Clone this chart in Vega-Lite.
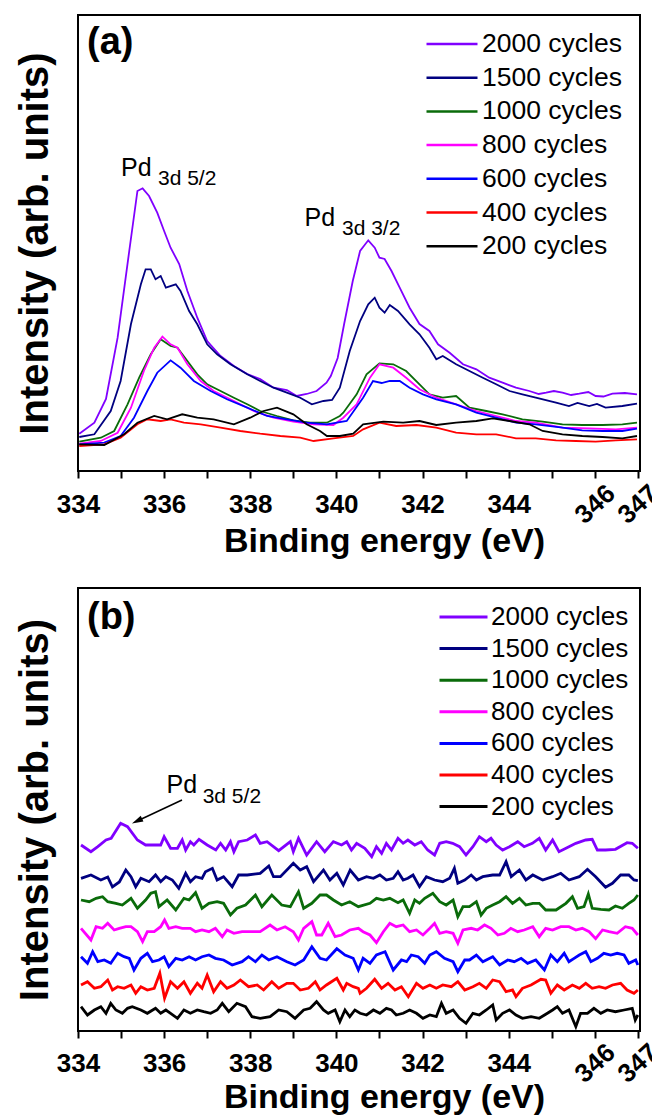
{
  "$schema": "https://vega.github.io/schema/vega-lite/v6.json",
  "padding": {"left": 14, "top": 14, "right": 0, "bottom": 0},
  "spacing": 28,
  "config": {
    "view": {"stroke": "black", "strokeWidth": 2},
    "font": "Liberation Sans",
    "text": {"font": "Liberation Sans", "color": "black"}
  },
  "resolve": {"scale": {"color": "independent"}, "legend": {"color": "independent"}},
  "vconcat": [
    {
      "width": 562,
      "height": 456,
      "layer": [
        {
          "data": {"values": [
            {"c":2000,"E":334.03,"v":37.3},{"c":2000,"E":334.38,"v":48.3},{"c":2000,"E":334.65,"v":72},{"c":2000,"E":334.92,"v":133.3},{"c":2000,"E":335.19,"v":220},{"c":2000,"E":335.38,"v":280},{"c":2000,"E":335.5,"v":282.7},{"c":2000,"E":335.65,"v":275},{"c":2000,"E":335.84,"v":258.3},{"c":2000,"E":336.0,"v":240},{"c":2000,"E":336.15,"v":223.3},{"c":2000,"E":336.35,"v":207},{"c":2000,"E":336.54,"v":180},{"c":2000,"E":336.77,"v":153.3},{"c":2000,"E":337.0,"v":130},{"c":2000,"E":337.31,"v":115},{"c":2000,"E":337.62,"v":105},{"c":2000,"E":337.93,"v":97},{"c":2000,"E":338.23,"v":92},{"c":2000,"E":338.54,"v":83.3},{"c":2000,"E":338.85,"v":81},{"c":2000,"E":339.08,"v":75},{"c":2000,"E":339.31,"v":77},{"c":2000,"E":339.54,"v":80},{"c":2000,"E":339.77,"v":88.3},{"c":2000,"E":339.87,"v":95},{"c":2000,"E":340.03,"v":113},{"c":2000,"E":340.18,"v":147},{"c":2000,"E":340.38,"v":190},{"c":2000,"E":340.55,"v":220},{"c":2000,"E":340.74,"v":230.7},{"c":2000,"E":340.89,"v":223.3},{"c":2000,"E":341.0,"v":213.3},{"c":2000,"E":341.12,"v":212},{"c":2000,"E":341.28,"v":200},{"c":2000,"E":341.47,"v":183.3},{"c":2000,"E":341.7,"v":163.3},{"c":2000,"E":341.93,"v":147},{"c":2000,"E":342.16,"v":140},{"c":2000,"E":342.36,"v":126.7},{"c":2000,"E":342.63,"v":118.3},{"c":2000,"E":342.94,"v":106.7},{"c":2000,"E":343.25,"v":101.7},{"c":2000,"E":343.55,"v":93.3},{"c":2000,"E":343.86,"v":88.3},{"c":2000,"E":344.17,"v":83.3},{"c":2000,"E":344.48,"v":80},{"c":2000,"E":344.7,"v":77},{"c":2000,"E":344.87,"v":78.3},{"c":2000,"E":345.05,"v":80},{"c":2000,"E":345.25,"v":78.3},{"c":2000,"E":345.45,"v":76},{"c":2000,"E":345.64,"v":77.3},{"c":2000,"E":345.85,"v":79},{"c":2000,"E":346.02,"v":75},{"c":2000,"E":346.2,"v":74.5},{"c":2000,"E":346.41,"v":77.3},{"c":2000,"E":346.7,"v":78},{"c":2000,"E":346.98,"v":76.7},
            {"c":1500,"E":334.03,"v":34},{"c":1500,"E":334.38,"v":36.7},{"c":1500,"E":334.76,"v":60},{"c":1500,"E":334.99,"v":90},{"c":1500,"E":335.23,"v":147},{"c":1500,"E":335.46,"v":186.7},{"c":1500,"E":335.57,"v":201.7},{"c":1500,"E":335.69,"v":201.7},{"c":1500,"E":335.8,"v":191.7},{"c":1500,"E":335.92,"v":195},{"c":1500,"E":336.04,"v":183.3},{"c":1500,"E":336.27,"v":186.7},{"c":1500,"E":336.38,"v":180},{"c":1500,"E":336.58,"v":160},{"c":1500,"E":336.77,"v":146.7},{"c":1500,"E":337.0,"v":126.7},{"c":1500,"E":337.23,"v":116.7},{"c":1500,"E":337.54,"v":106.7},{"c":1500,"E":337.93,"v":96.7},{"c":1500,"E":338.23,"v":90},{"c":1500,"E":338.54,"v":83.3},{"c":1500,"E":338.85,"v":78.3},{"c":1500,"E":339.16,"v":73.3},{"c":1500,"E":339.43,"v":66.7},{"c":1500,"E":339.7,"v":70},{"c":1500,"E":339.9,"v":71},{"c":1500,"E":340.08,"v":83.3},{"c":1500,"E":340.31,"v":120},{"c":1500,"E":340.55,"v":150},{"c":1500,"E":340.74,"v":166.7},{"c":1500,"E":340.89,"v":173.3},{"c":1500,"E":341.0,"v":163.3},{"c":1500,"E":341.12,"v":158.3},{"c":1500,"E":341.24,"v":166},{"c":1500,"E":341.43,"v":160},{"c":1500,"E":341.7,"v":146.7},{"c":1500,"E":341.93,"v":136.7},{"c":1500,"E":342.16,"v":123.3},{"c":1500,"E":342.32,"v":111.7},{"c":1500,"E":342.47,"v":115},{"c":1500,"E":342.78,"v":106.7},{"c":1500,"E":343.09,"v":100},{"c":1500,"E":343.4,"v":93.3},{"c":1500,"E":343.71,"v":86.7},{"c":1500,"E":344.02,"v":80},{"c":1500,"E":344.32,"v":76.7},{"c":1500,"E":344.63,"v":73.3},{"c":1500,"E":345.1,"v":68.3},{"c":1500,"E":345.4,"v":65},{"c":1500,"E":345.6,"v":68},{"c":1500,"E":345.87,"v":65},{"c":1500,"E":346.05,"v":67},{"c":1500,"E":346.25,"v":63.3},{"c":1500,"E":346.64,"v":65},{"c":1500,"E":346.98,"v":67.3},
            {"c":1000,"E":334.03,"v":29.3},{"c":1000,"E":334.53,"v":33.3},{"c":1000,"E":334.84,"v":40},{"c":1000,"E":335.15,"v":66.7},{"c":1000,"E":335.42,"v":93.3},{"c":1000,"E":335.69,"v":116.7},{"c":1000,"E":335.92,"v":131.7},{"c":1000,"E":336.15,"v":125},{"c":1000,"E":336.31,"v":123.3},{"c":1000,"E":336.54,"v":110},{"c":1000,"E":336.77,"v":96.7},{"c":1000,"E":337.0,"v":86.7},{"c":1000,"E":337.31,"v":80},{"c":1000,"E":337.62,"v":73.3},{"c":1000,"E":337.93,"v":66.7},{"c":1000,"E":338.23,"v":60},{"c":1000,"E":338.62,"v":55},{"c":1000,"E":339.0,"v":50.7},{"c":1000,"E":339.39,"v":48.3},{"c":1000,"E":339.78,"v":48.3},{"c":1000,"E":340.08,"v":55},{"c":1000,"E":340.16,"v":58.3},{"c":1000,"E":340.47,"v":76.7},{"c":1000,"E":340.7,"v":96.7},{"c":1000,"E":341.0,"v":107.7},{"c":1000,"E":341.32,"v":106.7},{"c":1000,"E":341.62,"v":100},{"c":1000,"E":341.93,"v":86.7},{"c":1000,"E":342.16,"v":76.7},{"c":1000,"E":342.47,"v":73.3},{"c":1000,"E":342.78,"v":75},{"c":1000,"E":343.09,"v":63.3},{"c":1000,"E":343.48,"v":60},{"c":1000,"E":343.86,"v":56.7},{"c":1000,"E":344.32,"v":51.7},{"c":1000,"E":344.79,"v":49.3},{"c":1000,"E":345.25,"v":46.7},{"c":1000,"E":345.71,"v":46},{"c":1000,"E":346.18,"v":46},{"c":1000,"E":346.64,"v":46.7},{"c":1000,"E":346.98,"v":48.3},
            {"c":800,"E":334.03,"v":27.3},{"c":800,"E":334.53,"v":30},{"c":800,"E":334.92,"v":38.3},{"c":800,"E":335.23,"v":63.3},{"c":800,"E":335.53,"v":100},{"c":800,"E":335.77,"v":123.3},{"c":800,"E":335.96,"v":134.3},{"c":800,"E":336.15,"v":126.7},{"c":800,"E":336.31,"v":123.3},{"c":800,"E":336.54,"v":106.7},{"c":800,"E":336.85,"v":90},{"c":800,"E":337.15,"v":80},{"c":800,"E":337.62,"v":70},{"c":800,"E":338.08,"v":60},{"c":800,"E":338.54,"v":53.3},{"c":800,"E":339.0,"v":49.3},{"c":800,"E":339.47,"v":46.7},{"c":800,"E":339.93,"v":46},{"c":800,"E":340.16,"v":53.3},{"c":800,"E":340.47,"v":66.7},{"c":800,"E":340.78,"v":93.3},{"c":800,"E":341.0,"v":106.7},{"c":800,"E":341.32,"v":103.3},{"c":800,"E":341.62,"v":93.3},{"c":800,"E":341.93,"v":81.7},{"c":800,"E":342.32,"v":73.3},{"c":800,"E":342.78,"v":66.7},{"c":800,"E":343.25,"v":60},{"c":800,"E":343.71,"v":55},{"c":800,"E":344.17,"v":50},{"c":800,"E":344.63,"v":48.3},{"c":800,"E":345.25,"v":43.3},{"c":800,"E":345.87,"v":42.7},{"c":800,"E":346.49,"v":41.7},{"c":800,"E":346.98,"v":43.3},
            {"c":600,"E":334.03,"v":26.7},{"c":600,"E":334.61,"v":28.3},{"c":600,"E":334.99,"v":35},{"c":600,"E":335.3,"v":53.3},{"c":600,"E":335.61,"v":80},{"c":600,"E":335.84,"v":98.3},{"c":600,"E":336.15,"v":110.7},{"c":600,"E":336.38,"v":103.3},{"c":600,"E":336.69,"v":90},{"c":600,"E":337.08,"v":80},{"c":600,"E":337.46,"v":71.7},{"c":600,"E":337.93,"v":63.3},{"c":600,"E":338.39,"v":55},{"c":600,"E":338.85,"v":51.7},{"c":600,"E":339.31,"v":48.3},{"c":600,"E":339.78,"v":46.7},{"c":600,"E":340.24,"v":50},{"c":600,"E":340.62,"v":73.3},{"c":600,"E":340.85,"v":90},{"c":600,"E":341.05,"v":88},{"c":600,"E":341.24,"v":90},{"c":600,"E":341.47,"v":90},{"c":600,"E":341.7,"v":83.3},{"c":600,"E":342.01,"v":76.7},{"c":600,"E":342.32,"v":71.7},{"c":600,"E":342.78,"v":66.7},{"c":600,"E":343.25,"v":58.3},{"c":600,"E":343.71,"v":53.3},{"c":600,"E":344.17,"v":48.3},{"c":600,"E":344.63,"v":46.7},{"c":600,"E":345.25,"v":43.3},{"c":600,"E":345.71,"v":40.7},{"c":600,"E":346.18,"v":40},{"c":600,"E":346.64,"v":40},{"c":600,"E":346.98,"v":42.3},
            {"c":400,"E":334.03,"v":25},{"c":400,"E":334.61,"v":26.7},{"c":400,"E":334.99,"v":33.3},{"c":400,"E":335.38,"v":46.7},{"c":400,"E":335.61,"v":51.7},{"c":400,"E":335.92,"v":50},{"c":400,"E":336.15,"v":51.7},{"c":400,"E":336.46,"v":48.3},{"c":400,"E":336.85,"v":46.7},{"c":400,"E":337.31,"v":43.3},{"c":400,"E":337.77,"v":40},{"c":400,"E":338.23,"v":37.3},{"c":400,"E":338.7,"v":35},{"c":400,"E":339.16,"v":33.3},{"c":400,"E":339.47,"v":30},{"c":400,"E":339.93,"v":32.7},{"c":400,"E":340.39,"v":35},{"c":400,"E":340.62,"v":41.7},{"c":400,"E":341.0,"v":48.3},{"c":400,"E":341.39,"v":45},{"c":400,"E":341.86,"v":46},{"c":400,"E":342.32,"v":43.3},{"c":400,"E":342.78,"v":38.3},{"c":400,"E":343.25,"v":36.7},{"c":400,"E":343.71,"v":36.7},{"c":400,"E":344.17,"v":32.7},{"c":400,"E":344.63,"v":32.7},{"c":400,"E":345.1,"v":30.7},{"c":400,"E":345.56,"v":30},{"c":400,"E":346.02,"v":29.3},{"c":400,"E":346.49,"v":30.7},{"c":400,"E":346.98,"v":31.7},
            {"c":200,"E":334.03,"v":26.7},{"c":200,"E":334.61,"v":26},{"c":200,"E":335.07,"v":36.7},{"c":200,"E":335.38,"v":48.3},{"c":200,"E":335.77,"v":55},{"c":200,"E":336.07,"v":51.7},{"c":200,"E":336.42,"v":56.7},{"c":200,"E":336.77,"v":53.3},{"c":200,"E":337.15,"v":51.7},{"c":200,"E":337.62,"v":46.7},{"c":200,"E":338.0,"v":53.3},{"c":200,"E":338.31,"v":60},{"c":200,"E":338.62,"v":63.3},{"c":200,"E":339.0,"v":56.7},{"c":200,"E":339.31,"v":46.7},{"c":200,"E":339.62,"v":40},{"c":200,"E":339.78,"v":35},{"c":200,"E":340.08,"v":35},{"c":200,"E":340.39,"v":37.3},{"c":200,"E":340.62,"v":46.7},{"c":200,"E":341.09,"v":49.3},{"c":200,"E":341.55,"v":48.3},{"c":200,"E":341.93,"v":50},{"c":200,"E":342.32,"v":46},{"c":200,"E":342.78,"v":48.3},{"c":200,"E":343.25,"v":50},{"c":200,"E":343.63,"v":52.7},{"c":200,"E":344.02,"v":50},{"c":200,"E":344.48,"v":46.7},{"c":200,"E":344.79,"v":40},{"c":200,"E":345.25,"v":36.7},{"c":200,"E":345.71,"v":35},{"c":200,"E":346.18,"v":34},{"c":200,"E":346.64,"v":32.7},{"c":200,"E":346.98,"v":35}
          ]},
          "mark": {"type": "line", "strokeWidth": 1.8, "clip": true},
          "encoding": {
            "x": {"field": "E", "type": "quantitative", "scale": {"domain": [334, 347.05], "nice": false, "zero": false},
              "axis": {"title": "Binding energy (eV)", "values": [334,335,336,337,338,339,340,341,342,343,344,345,346,347],
                "labelExpr": "datum.value % 2 == 0 || datum.value == 347 ? datum.label : ''",
                "labelAngle": {"expr": "datum.value >= 346 ? -42 : 0"},
                "grid": false, "domain": false, "tickSize": 7, "tickWidth": 2, "tickColor": "black",
                "labelFont": "Liberation Sans", "labelFontWeight": "bold", "labelFontSize": 26, "labelColor": "black",
                "labelAlign": "center", "labelBaseline": "middle", "labelPadding": 26, "labelOverlap": false, "labelBound": false, "labelFlush": false,
                "titleFont": "Liberation Sans", "titleFontSize": 34, "titleFontWeight": "bold", "titleColor": "black",
                "titleX": 306, "titleY": 80, "titleBaseline": "alphabetic", "titleAlign": "center"}},
            "y": {"field": "v", "type": "quantitative", "scale": {"domain": [0, 456], "nice": false, "zero": false},
              "axis": {"title": "Intensity (arb. units)", "labels": false, "ticks": false, "domain": false, "grid": false,
                "titleFont": "Liberation Sans", "titleFontSize": 40, "titleFontWeight": "bold", "titleColor": "black",
                "titleX": -31, "titleBaseline": "alphabetic"}},
            "color": {"field": "c", "type": "nominal",
              "scale": {"domain": [2000,1500,1000,800,600,400,200], "range": ["#8000FF","#000080","#0A6B0A","#FF00FF","#0000FF","#FF0000","#000000"]},
              "legend": {"orient": "none", "legendX": 347, "legendY": 14, "title": null, "padding": 0,
                "symbolType": "stroke", "symbolSize": 2601, "symbolStrokeWidth": 2.5, "clipHeight": 30, "rowPadding": 3.7,
                "labelFont": "Liberation Sans", "labelFontSize": 26.5, "labelColor": "black", "labelOffset": 3,
                "labelExpr": "datum.label + ' cycles'"}}
          }
        },
        {
          "data": {"values": [{"E": 334.998, "v": 295, "t": "Pd"}, {"E": 339.261, "v": 245, "t": "Pd"}]},
          "mark": {"type": "text", "align": "left", "baseline": "alphabetic", "fontSize": 25, "font": "Liberation Sans", "color": "black"},
          "encoding": {"x": {"field": "E", "type": "quantitative"}, "y": {"field": "v", "type": "quantitative"}, "text": {"field": "t"}}
        },
        {
          "data": {"values": [{"E": 335.857, "v": 286, "t": "3d 5/2"}, {"E": 340.13, "v": 236, "t": "3d 3/2"}]},
          "mark": {"type": "text", "align": "left", "baseline": "alphabetic", "fontSize": 21, "font": "Liberation Sans", "color": "black"},
          "encoding": {"x": {"field": "E", "type": "quantitative"}, "y": {"field": "v", "type": "quantitative"}, "text": {"field": "t"}}
        },
        {
          "data": {"values": [{"E": 334.209, "v": 417, "t": "(a)"}]},
          "mark": {"type": "text", "align": "left", "baseline": "alphabetic", "fontSize": 38, "fontWeight": "bold", "font": "Liberation Sans", "color": "black"},
          "encoding": {"x": {"field": "E", "type": "quantitative"}, "y": {"field": "v", "type": "quantitative"}, "text": {"field": "t"}}
        }
      ]
    },
    {
      "width": 562,
      "height": 443,
      "layer": [
        {
          "data": {"values": [
            {"c":2000,"E":334.07,"v":186},{"c":2000,"E":334.3,"v":179.3},{"c":2000,"E":334.46,"v":184.3},{"c":2000,"E":334.65,"v":191},{"c":2000,"E":334.77,"v":192.7},{"c":2000,"E":334.99,"v":207.7},{"c":2000,"E":335.15,"v":204.3},{"c":2000,"E":335.38,"v":191},{"c":2000,"E":335.57,"v":186},{"c":2000,"E":335.92,"v":186},{"c":2000,"E":336.0,"v":194.3},{"c":2000,"E":336.15,"v":182.7},{"c":2000,"E":336.31,"v":182.7},{"c":2000,"E":336.42,"v":191},{"c":2000,"E":336.5,"v":181},{"c":2000,"E":336.61,"v":189.3},{"c":2000,"E":336.69,"v":186},{"c":2000,"E":336.81,"v":191.7},{"c":2000,"E":337.0,"v":186},{"c":2000,"E":337.2,"v":181},{"c":2000,"E":337.31,"v":187.7},{"c":2000,"E":337.43,"v":181},{"c":2000,"E":337.54,"v":189.3},{"c":2000,"E":337.62,"v":179.3},{"c":2000,"E":337.73,"v":189.3},{"c":2000,"E":337.93,"v":191},{"c":2000,"E":338.12,"v":196},{"c":2000,"E":338.23,"v":187.7},{"c":2000,"E":338.39,"v":189.3},{"c":2000,"E":338.66,"v":180.3},{"c":2000,"E":338.93,"v":189.3},{"c":2000,"E":339.0,"v":179.3},{"c":2000,"E":339.12,"v":192.7},{"c":2000,"E":339.31,"v":176},{"c":2000,"E":339.54,"v":189.3},{"c":2000,"E":339.73,"v":179.3},{"c":2000,"E":339.93,"v":189.3},{"c":2000,"E":340.12,"v":186},{"c":2000,"E":340.24,"v":189.3},{"c":2000,"E":340.35,"v":181},{"c":2000,"E":340.47,"v":187.7},{"c":2000,"E":340.66,"v":182.7},{"c":2000,"E":340.82,"v":174.3},{"c":2000,"E":340.93,"v":184.3},{"c":2000,"E":341.05,"v":177.7},{"c":2000,"E":341.16,"v":187.7},{"c":2000,"E":341.28,"v":181},{"c":2000,"E":341.43,"v":192.7},{"c":2000,"E":341.55,"v":187.7},{"c":2000,"E":341.66,"v":191},{"c":2000,"E":341.82,"v":186},{"c":2000,"E":341.97,"v":189.3},{"c":2000,"E":342.12,"v":181},{"c":2000,"E":342.28,"v":176},{"c":2000,"E":342.4,"v":187.7},{"c":2000,"E":342.55,"v":189.3},{"c":2000,"E":342.7,"v":187.7},{"c":2000,"E":342.86,"v":184.3},{"c":2000,"E":343.01,"v":176},{"c":2000,"E":343.17,"v":184.3},{"c":2000,"E":343.32,"v":194.3},{"c":2000,"E":343.48,"v":189.3},{"c":2000,"E":343.59,"v":192.7},{"c":2000,"E":343.71,"v":186},{"c":2000,"E":343.86,"v":181},{"c":2000,"E":344.02,"v":184.3},{"c":2000,"E":344.21,"v":189.3},{"c":2000,"E":344.36,"v":184.3},{"c":2000,"E":344.55,"v":187.7},{"c":2000,"E":344.71,"v":192.7},{"c":2000,"E":344.86,"v":181},{"c":2000,"E":345.02,"v":191},{"c":2000,"E":345.17,"v":179.3},{"c":2000,"E":345.4,"v":184.3},{"c":2000,"E":345.56,"v":187.7},{"c":2000,"E":345.79,"v":191},{"c":2000,"E":345.94,"v":191.7},{"c":2000,"E":346.06,"v":181},{"c":2000,"E":346.25,"v":181},{"c":2000,"E":346.48,"v":181.7},{"c":2000,"E":346.75,"v":188.3},{"c":2000,"E":346.87,"v":187.7},{"c":2000,"E":347.0,"v":182.7},
            {"c":1500,"E":334.07,"v":152.7},{"c":1500,"E":334.3,"v":156},{"c":1500,"E":334.53,"v":151},{"c":1500,"E":334.69,"v":154},{"c":1500,"E":334.8,"v":144},{"c":1500,"E":334.96,"v":149},{"c":1500,"E":335.11,"v":161},{"c":1500,"E":335.23,"v":154.3},{"c":1500,"E":335.34,"v":144.3},{"c":1500,"E":335.46,"v":152.7},{"c":1500,"E":335.65,"v":149.3},{"c":1500,"E":335.8,"v":156},{"c":1500,"E":335.92,"v":149.3},{"c":1500,"E":336.04,"v":154.3},{"c":1500,"E":336.19,"v":151},{"c":1500,"E":336.34,"v":142.7},{"c":1500,"E":336.5,"v":157.7},{"c":1500,"E":336.61,"v":149.3},{"c":1500,"E":336.73,"v":154.3},{"c":1500,"E":336.88,"v":152.7},{"c":1500,"E":336.96,"v":159.3},{"c":1500,"E":337.12,"v":162.7},{"c":1500,"E":337.23,"v":151},{"c":1500,"E":337.38,"v":154.3},{"c":1500,"E":337.58,"v":144.3},{"c":1500,"E":337.73,"v":156},{"c":1500,"E":337.93,"v":156},{"c":1500,"E":338.23,"v":157.7},{"c":1500,"E":338.43,"v":165},{"c":1500,"E":338.54,"v":154.3},{"c":1500,"E":338.7,"v":154.3},{"c":1500,"E":339.0,"v":167.7},{"c":1500,"E":339.16,"v":161},{"c":1500,"E":339.31,"v":164.3},{"c":1500,"E":339.47,"v":149.3},{"c":1500,"E":339.7,"v":161},{"c":1500,"E":339.85,"v":151},{"c":1500,"E":340.01,"v":157.7},{"c":1500,"E":340.16,"v":146},{"c":1500,"E":340.32,"v":161},{"c":1500,"E":340.51,"v":151},{"c":1500,"E":340.7,"v":154.3},{"c":1500,"E":340.86,"v":152.7},{"c":1500,"E":341.01,"v":156},{"c":1500,"E":341.16,"v":151},{"c":1500,"E":341.32,"v":152.7},{"c":1500,"E":341.43,"v":159.3},{"c":1500,"E":341.55,"v":151},{"c":1500,"E":341.66,"v":152.7},{"c":1500,"E":341.78,"v":156},{"c":1500,"E":341.93,"v":144.3},{"c":1500,"E":342.09,"v":154.3},{"c":1500,"E":342.28,"v":151},{"c":1500,"E":342.47,"v":149.3},{"c":1500,"E":342.63,"v":152.7},{"c":1500,"E":342.74,"v":162.7},{"c":1500,"E":342.82,"v":147.7},{"c":1500,"E":342.98,"v":151},{"c":1500,"E":343.13,"v":156},{"c":1500,"E":343.25,"v":151},{"c":1500,"E":343.4,"v":154.3},{"c":1500,"E":343.63,"v":156},{"c":1500,"E":343.79,"v":156},{"c":1500,"E":343.94,"v":169.3},{"c":1500,"E":344.06,"v":154.3},{"c":1500,"E":344.25,"v":161},{"c":1500,"E":344.4,"v":151},{"c":1500,"E":344.56,"v":156},{"c":1500,"E":344.79,"v":151},{"c":1500,"E":345.02,"v":154.3},{"c":1500,"E":345.21,"v":157.7},{"c":1500,"E":345.4,"v":151},{"c":1500,"E":345.64,"v":154.3},{"c":1500,"E":345.83,"v":161.7},{"c":1500,"E":346.02,"v":154.3},{"c":1500,"E":346.25,"v":143.7},{"c":1500,"E":346.41,"v":147.7},{"c":1500,"E":346.6,"v":156},{"c":1500,"E":346.79,"v":156},{"c":1500,"E":346.91,"v":151},{"c":1500,"E":347.0,"v":150.3},
            {"c":1000,"E":334.07,"v":131},{"c":1000,"E":334.26,"v":129.3},{"c":1000,"E":334.42,"v":132.7},{"c":1000,"E":334.57,"v":134.3},{"c":1000,"E":334.69,"v":129.3},{"c":1000,"E":334.88,"v":127.7},{"c":1000,"E":335.03,"v":126},{"c":1000,"E":335.23,"v":132.7},{"c":1000,"E":335.38,"v":122.7},{"c":1000,"E":335.57,"v":131},{"c":1000,"E":335.69,"v":137.7},{"c":1000,"E":335.8,"v":139.3},{"c":1000,"E":335.88,"v":124.3},{"c":1000,"E":336.07,"v":131},{"c":1000,"E":336.27,"v":121},{"c":1000,"E":336.46,"v":132.7},{"c":1000,"E":336.58,"v":131},{"c":1000,"E":336.73,"v":138.3},{"c":1000,"E":336.88,"v":122.7},{"c":1000,"E":337.04,"v":127.7},{"c":1000,"E":337.23,"v":129.3},{"c":1000,"E":337.38,"v":127.7},{"c":1000,"E":337.54,"v":116},{"c":1000,"E":337.69,"v":122.7},{"c":1000,"E":337.89,"v":126},{"c":1000,"E":338.12,"v":136},{"c":1000,"E":338.27,"v":124.3},{"c":1000,"E":338.5,"v":136},{"c":1000,"E":338.73,"v":126},{"c":1000,"E":338.93,"v":124.3},{"c":1000,"E":339.12,"v":139.3},{"c":1000,"E":339.24,"v":122.7},{"c":1000,"E":339.43,"v":127.7},{"c":1000,"E":339.62,"v":136},{"c":1000,"E":339.77,"v":136},{"c":1000,"E":339.93,"v":131},{"c":1000,"E":340.12,"v":126},{"c":1000,"E":340.31,"v":129.3},{"c":1000,"E":340.51,"v":124.3},{"c":1000,"E":340.78,"v":127.7},{"c":1000,"E":340.93,"v":132.7},{"c":1000,"E":341.09,"v":131},{"c":1000,"E":341.24,"v":132.7},{"c":1000,"E":341.43,"v":128.3},{"c":1000,"E":341.55,"v":131},{"c":1000,"E":341.7,"v":117.7},{"c":1000,"E":341.82,"v":131},{"c":1000,"E":341.93,"v":127.7},{"c":1000,"E":342.05,"v":132.7},{"c":1000,"E":342.24,"v":137.7},{"c":1000,"E":342.4,"v":129.3},{"c":1000,"E":342.55,"v":126},{"c":1000,"E":342.71,"v":131},{"c":1000,"E":342.82,"v":114.3},{"c":1000,"E":342.94,"v":124.3},{"c":1000,"E":343.09,"v":124.3},{"c":1000,"E":343.25,"v":129.3},{"c":1000,"E":343.36,"v":116},{"c":1000,"E":343.48,"v":122.7},{"c":1000,"E":343.63,"v":126},{"c":1000,"E":343.79,"v":129.3},{"c":1000,"E":343.94,"v":134.3},{"c":1000,"E":344.09,"v":127.7},{"c":1000,"E":344.25,"v":132.7},{"c":1000,"E":344.4,"v":126},{"c":1000,"E":344.56,"v":127.7},{"c":1000,"E":344.71,"v":127.7},{"c":1000,"E":344.86,"v":121},{"c":1000,"E":345.1,"v":121},{"c":1000,"E":345.33,"v":127.7},{"c":1000,"E":345.48,"v":134.3},{"c":1000,"E":345.6,"v":122.7},{"c":1000,"E":345.75,"v":124.3},{"c":1000,"E":345.85,"v":137},{"c":1000,"E":345.94,"v":122.7},{"c":1000,"E":346.14,"v":121.7},{"c":1000,"E":346.33,"v":121},{"c":1000,"E":346.48,"v":125},{"c":1000,"E":346.64,"v":122.7},{"c":1000,"E":346.79,"v":127.7},{"c":1000,"E":346.91,"v":131},{"c":1000,"E":347.0,"v":136},
            {"c":800,"E":334.07,"v":102.7},{"c":800,"E":334.3,"v":91},{"c":800,"E":334.42,"v":104.3},{"c":800,"E":334.57,"v":102.7},{"c":800,"E":334.69,"v":107.7},{"c":800,"E":334.84,"v":101},{"c":800,"E":334.96,"v":102.7},{"c":800,"E":335.11,"v":104.3},{"c":800,"E":335.23,"v":104.3},{"c":800,"E":335.38,"v":99.3},{"c":800,"E":335.5,"v":89.3},{"c":800,"E":335.61,"v":99.3},{"c":800,"E":335.77,"v":99.3},{"c":800,"E":335.92,"v":104.3},{"c":800,"E":336.01,"v":111},{"c":800,"E":336.11,"v":102.7},{"c":800,"E":336.27,"v":104.3},{"c":800,"E":336.42,"v":102.7},{"c":800,"E":336.61,"v":102.7},{"c":800,"E":336.73,"v":99.3},{"c":800,"E":336.88,"v":101},{"c":800,"E":337.04,"v":99.3},{"c":800,"E":337.19,"v":102.7},{"c":800,"E":337.35,"v":94.3},{"c":800,"E":337.46,"v":101},{"c":800,"E":337.62,"v":97.7},{"c":800,"E":337.81,"v":99.3},{"c":800,"E":338.0,"v":99.3},{"c":800,"E":338.23,"v":99.3},{"c":800,"E":338.46,"v":106},{"c":800,"E":338.62,"v":101},{"c":800,"E":338.81,"v":104.3},{"c":800,"E":339.0,"v":99.3},{"c":800,"E":339.12,"v":91},{"c":800,"E":339.24,"v":102.7},{"c":800,"E":339.43,"v":109.3},{"c":800,"E":339.54,"v":96},{"c":800,"E":339.66,"v":96},{"c":800,"E":339.81,"v":107.7},{"c":800,"E":339.97,"v":94.3},{"c":800,"E":340.12,"v":96},{"c":800,"E":340.31,"v":101},{"c":800,"E":340.51,"v":102.7},{"c":800,"E":340.62,"v":99.3},{"c":800,"E":340.78,"v":96},{"c":800,"E":340.93,"v":88.3},{"c":800,"E":341.09,"v":99.3},{"c":800,"E":341.24,"v":107.7},{"c":800,"E":341.39,"v":104.3},{"c":800,"E":341.55,"v":106},{"c":800,"E":341.7,"v":99.3},{"c":800,"E":341.86,"v":101},{"c":800,"E":342.01,"v":96},{"c":800,"E":342.17,"v":102.7},{"c":800,"E":342.28,"v":107.7},{"c":800,"E":342.4,"v":97.7},{"c":800,"E":342.55,"v":99.3},{"c":800,"E":342.71,"v":97.7},{"c":800,"E":342.82,"v":87.7},{"c":800,"E":342.94,"v":101},{"c":800,"E":343.13,"v":102.7},{"c":800,"E":343.28,"v":101},{"c":800,"E":343.44,"v":106},{"c":800,"E":343.59,"v":102.7},{"c":800,"E":343.75,"v":96},{"c":800,"E":343.9,"v":97.7},{"c":800,"E":344.05,"v":102.7},{"c":800,"E":344.21,"v":99.3},{"c":800,"E":344.36,"v":101},{"c":800,"E":344.56,"v":104.3},{"c":800,"E":344.71,"v":94.3},{"c":800,"E":344.86,"v":102.7},{"c":800,"E":345.02,"v":101},{"c":800,"E":345.21,"v":104.3},{"c":800,"E":345.4,"v":104.3},{"c":800,"E":345.56,"v":101},{"c":800,"E":345.71,"v":102.7},{"c":800,"E":345.87,"v":99.3},{"c":800,"E":346.02,"v":92.3},{"c":800,"E":346.18,"v":101},{"c":800,"E":346.33,"v":99.3},{"c":800,"E":346.52,"v":97.7},{"c":800,"E":346.71,"v":104.3},{"c":800,"E":346.87,"v":102.7},{"c":800,"E":347.0,"v":96},
            {"c":600,"E":334.07,"v":74.3},{"c":600,"E":334.22,"v":67.7},{"c":600,"E":334.34,"v":79.3},{"c":600,"E":334.46,"v":69.3},{"c":600,"E":334.61,"v":71},{"c":600,"E":334.76,"v":67.7},{"c":600,"E":334.92,"v":77.7},{"c":600,"E":335.07,"v":74.3},{"c":600,"E":335.19,"v":72.7},{"c":600,"E":335.3,"v":61},{"c":600,"E":335.46,"v":72.7},{"c":600,"E":335.61,"v":77.7},{"c":600,"E":335.73,"v":69.3},{"c":600,"E":335.88,"v":71},{"c":600,"E":336.0,"v":74.3},{"c":600,"E":336.11,"v":64.3},{"c":600,"E":336.27,"v":72.7},{"c":600,"E":336.42,"v":71},{"c":600,"E":336.58,"v":74.3},{"c":600,"E":336.73,"v":71},{"c":600,"E":336.88,"v":74.3},{"c":600,"E":337.04,"v":76},{"c":600,"E":337.19,"v":72.7},{"c":600,"E":337.38,"v":71},{"c":600,"E":337.58,"v":66},{"c":600,"E":337.81,"v":69.3},{"c":600,"E":337.96,"v":74.3},{"c":600,"E":338.12,"v":69.3},{"c":600,"E":338.27,"v":76},{"c":600,"E":338.43,"v":71},{"c":600,"E":338.62,"v":74.3},{"c":600,"E":338.85,"v":69.3},{"c":600,"E":339.04,"v":66},{"c":600,"E":339.24,"v":71},{"c":600,"E":339.43,"v":84.3},{"c":600,"E":339.62,"v":72.7},{"c":600,"E":339.77,"v":71},{"c":600,"E":340.01,"v":82.3},{"c":600,"E":340.2,"v":76},{"c":600,"E":340.39,"v":72.7},{"c":600,"E":340.51,"v":61},{"c":600,"E":340.62,"v":72.7},{"c":600,"E":340.78,"v":67.7},{"c":600,"E":340.93,"v":76},{"c":600,"E":341.13,"v":79.3},{"c":600,"E":341.32,"v":61},{"c":600,"E":341.51,"v":71},{"c":600,"E":341.63,"v":69.3},{"c":600,"E":341.74,"v":76},{"c":600,"E":341.9,"v":74.3},{"c":600,"E":342.05,"v":67.7},{"c":600,"E":342.17,"v":76},{"c":600,"E":342.32,"v":79.3},{"c":600,"E":342.51,"v":72.7},{"c":600,"E":342.71,"v":69.3},{"c":600,"E":342.82,"v":59.3},{"c":600,"E":342.98,"v":71},{"c":600,"E":343.09,"v":71},{"c":600,"E":343.25,"v":76},{"c":600,"E":343.4,"v":69.3},{"c":600,"E":343.63,"v":74.3},{"c":600,"E":343.79,"v":66},{"c":600,"E":343.98,"v":71},{"c":600,"E":344.13,"v":69.3},{"c":600,"E":344.29,"v":72.7},{"c":600,"E":344.44,"v":67.7},{"c":600,"E":344.63,"v":71},{"c":600,"E":344.83,"v":61},{"c":600,"E":344.98,"v":76},{"c":600,"E":345.13,"v":69.3},{"c":600,"E":345.29,"v":77.7},{"c":600,"E":345.4,"v":69.3},{"c":600,"E":345.52,"v":72.7},{"c":600,"E":345.64,"v":76},{"c":600,"E":345.79,"v":79.3},{"c":600,"E":345.91,"v":69.3},{"c":600,"E":346.06,"v":72.7},{"c":600,"E":346.21,"v":77.7},{"c":600,"E":346.37,"v":76},{"c":600,"E":346.52,"v":77.7},{"c":600,"E":346.68,"v":76},{"c":600,"E":346.79,"v":67.7},{"c":600,"E":346.95,"v":71},{"c":600,"E":347.0,"v":66},
            {"c":400,"E":334.07,"v":46},{"c":400,"E":334.22,"v":49.3},{"c":400,"E":334.38,"v":42.7},{"c":400,"E":334.53,"v":44.3},{"c":400,"E":334.69,"v":51},{"c":400,"E":334.8,"v":41},{"c":400,"E":334.92,"v":44.3},{"c":400,"E":335.07,"v":42.7},{"c":400,"E":335.23,"v":46},{"c":400,"E":335.34,"v":37.7},{"c":400,"E":335.46,"v":44.3},{"c":400,"E":335.61,"v":41},{"c":400,"E":335.77,"v":42.7},{"c":400,"E":335.9,"v":57.7},{"c":400,"E":336.01,"v":32.7},{"c":400,"E":336.15,"v":49.3},{"c":400,"E":336.31,"v":42.7},{"c":400,"E":336.46,"v":49.3},{"c":400,"E":336.61,"v":37.7},{"c":400,"E":336.77,"v":47.7},{"c":400,"E":336.88,"v":42.7},{"c":400,"E":337.0,"v":56},{"c":400,"E":337.15,"v":39.3},{"c":400,"E":337.31,"v":49.3},{"c":400,"E":337.46,"v":42.7},{"c":400,"E":337.62,"v":46},{"c":400,"E":337.77,"v":51},{"c":400,"E":337.96,"v":44.3},{"c":400,"E":338.16,"v":46},{"c":400,"E":338.31,"v":41},{"c":400,"E":338.5,"v":49.3},{"c":400,"E":338.66,"v":42.7},{"c":400,"E":338.85,"v":47.7},{"c":400,"E":339.0,"v":47.7},{"c":400,"E":339.16,"v":41},{"c":400,"E":339.35,"v":42.7},{"c":400,"E":339.51,"v":49.3},{"c":400,"E":339.62,"v":41},{"c":400,"E":339.77,"v":46},{"c":400,"E":340.01,"v":52.7},{"c":400,"E":340.16,"v":41},{"c":400,"E":340.24,"v":47.7},{"c":400,"E":340.39,"v":44.3},{"c":400,"E":340.51,"v":42.7},{"c":400,"E":340.55,"v":37.7},{"c":400,"E":340.7,"v":42.7},{"c":400,"E":340.89,"v":51.7},{"c":400,"E":341.05,"v":42.7},{"c":400,"E":341.2,"v":47.7},{"c":400,"E":341.36,"v":41},{"c":400,"E":341.51,"v":44.3},{"c":400,"E":341.67,"v":34.3},{"c":400,"E":341.86,"v":47.7},{"c":400,"E":342.01,"v":42.7},{"c":400,"E":342.17,"v":46},{"c":400,"E":342.32,"v":42.7},{"c":400,"E":342.47,"v":46},{"c":400,"E":342.67,"v":44.3},{"c":400,"E":342.82,"v":49.3},{"c":400,"E":342.98,"v":41},{"c":400,"E":343.17,"v":44.3},{"c":400,"E":343.32,"v":47.7},{"c":400,"E":343.48,"v":42.7},{"c":400,"E":343.63,"v":51},{"c":400,"E":343.79,"v":49.3},{"c":400,"E":343.94,"v":39.3},{"c":400,"E":344.09,"v":41},{"c":400,"E":344.17,"v":34.3},{"c":400,"E":344.32,"v":42.7},{"c":400,"E":344.52,"v":46},{"c":400,"E":344.75,"v":51.7},{"c":400,"E":344.86,"v":51},{"c":400,"E":344.98,"v":37.7},{"c":400,"E":345.13,"v":46},{"c":400,"E":345.29,"v":41},{"c":400,"E":345.48,"v":46},{"c":400,"E":345.64,"v":42.7},{"c":400,"E":345.79,"v":47.7},{"c":400,"E":345.94,"v":42.7},{"c":400,"E":346.1,"v":44.3},{"c":400,"E":346.25,"v":42.7},{"c":400,"E":346.41,"v":46},{"c":400,"E":346.6,"v":47.7},{"c":400,"E":346.75,"v":41},{"c":400,"E":346.91,"v":37.7},{"c":400,"E":347.0,"v":41},
            {"c":200,"E":334.07,"v":24.3},{"c":200,"E":334.22,"v":16},{"c":200,"E":334.38,"v":21},{"c":200,"E":334.53,"v":24.3},{"c":200,"E":334.65,"v":17.7},{"c":200,"E":334.76,"v":27.7},{"c":200,"E":334.88,"v":21},{"c":200,"E":335.03,"v":17.7},{"c":200,"E":335.15,"v":22.7},{"c":200,"E":335.26,"v":24.3},{"c":200,"E":335.46,"v":21},{"c":200,"E":335.61,"v":17.7},{"c":200,"E":335.8,"v":22.7},{"c":200,"E":335.92,"v":17.7},{"c":200,"E":336.04,"v":21},{"c":200,"E":336.15,"v":17.7},{"c":200,"E":336.31,"v":12.7},{"c":200,"E":336.46,"v":21},{"c":200,"E":336.61,"v":17.7},{"c":200,"E":336.77,"v":21},{"c":200,"E":336.92,"v":19.3},{"c":200,"E":337.08,"v":17.7},{"c":200,"E":337.23,"v":21},{"c":200,"E":337.35,"v":27.7},{"c":200,"E":337.5,"v":19.3},{"c":200,"E":337.69,"v":27.7},{"c":200,"E":337.89,"v":24.3},{"c":200,"E":338.04,"v":14.3},{"c":200,"E":338.23,"v":12.7},{"c":200,"E":338.46,"v":14.3},{"c":200,"E":338.66,"v":21},{"c":200,"E":338.85,"v":19.3},{"c":200,"E":339.04,"v":12.7},{"c":200,"E":339.24,"v":21},{"c":200,"E":339.39,"v":22.7},{"c":200,"E":339.54,"v":29.3},{"c":200,"E":339.7,"v":21},{"c":200,"E":339.81,"v":17.7},{"c":200,"E":339.97,"v":21},{"c":200,"E":340.08,"v":9.3},{"c":200,"E":340.2,"v":21},{"c":200,"E":340.31,"v":14.3},{"c":200,"E":340.43,"v":21},{"c":200,"E":340.55,"v":17.7},{"c":200,"E":340.7,"v":16},{"c":200,"E":340.86,"v":21},{"c":200,"E":341.01,"v":17.7},{"c":200,"E":341.16,"v":22.7},{"c":200,"E":341.28,"v":21},{"c":200,"E":341.39,"v":16},{"c":200,"E":341.55,"v":17.7},{"c":200,"E":341.7,"v":21},{"c":200,"E":341.86,"v":17.7},{"c":200,"E":342.01,"v":12.7},{"c":200,"E":342.17,"v":16},{"c":200,"E":342.32,"v":14.3},{"c":200,"E":342.44,"v":27.7},{"c":200,"E":342.55,"v":17.7},{"c":200,"E":342.71,"v":21},{"c":200,"E":342.86,"v":12.7},{"c":200,"E":343.01,"v":7.7},{"c":200,"E":343.17,"v":17.7},{"c":200,"E":343.32,"v":16},{"c":200,"E":343.48,"v":21},{"c":200,"E":343.63,"v":26},{"c":200,"E":343.71,"v":11},{"c":200,"E":343.86,"v":17.7},{"c":200,"E":344.02,"v":21},{"c":200,"E":344.17,"v":16},{"c":200,"E":344.32,"v":12.7},{"c":200,"E":344.52,"v":14.3},{"c":200,"E":344.71,"v":12.7},{"c":200,"E":344.9,"v":17.7},{"c":200,"E":345.02,"v":21},{"c":200,"E":345.13,"v":24.3},{"c":200,"E":345.25,"v":17.7},{"c":200,"E":345.4,"v":21},{"c":200,"E":345.56,"v":4.3},{"c":200,"E":345.67,"v":17.7},{"c":200,"E":345.83,"v":17.7},{"c":200,"E":345.98,"v":22.7},{"c":200,"E":346.14,"v":17.7},{"c":200,"E":346.29,"v":21},{"c":200,"E":346.48,"v":19.3},{"c":200,"E":346.68,"v":21},{"c":200,"E":346.87,"v":22.7},{"c":200,"E":346.94,"v":11},{"c":200,"E":347.0,"v":16}
          ]},
          "mark": {"type": "line", "strokeWidth": 2.8, "clip": true},
          "encoding": {
            "x": {"field": "E", "type": "quantitative", "scale": {"domain": [334, 347.05], "nice": false, "zero": false},
              "axis": {"title": "Binding energy (eV)", "values": [334,335,336,337,338,339,340,341,342,343,344,345,346,347],
                "labelExpr": "datum.value % 2 == 0 || datum.value == 347 ? datum.label : ''",
                "labelAngle": {"expr": "datum.value >= 346 ? -42 : 0"},
                "grid": false, "domain": false, "tickSize": 7, "tickWidth": 2, "tickColor": "black",
                "labelFont": "Liberation Sans", "labelFontWeight": "bold", "labelFontSize": 26, "labelColor": "black",
                "labelAlign": "center", "labelBaseline": "middle", "labelPadding": 25, "labelOverlap": false, "labelBound": false, "labelFlush": false,
                "titleFont": "Liberation Sans", "titleFontSize": 34, "titleFontWeight": "bold", "titleColor": "black",
                "titleX": 306, "titleY": 76, "titleBaseline": "alphabetic", "titleAlign": "center"}},
            "y": {"field": "v", "type": "quantitative", "scale": {"domain": [0, 443], "nice": false, "zero": false},
              "axis": {"title": "Intensity (arb. units)", "labels": false, "ticks": false, "domain": false, "grid": false,
                "titleFont": "Liberation Sans", "titleFontSize": 40, "titleFontWeight": "bold", "titleColor": "black",
                "titleX": -31, "titleBaseline": "alphabetic"}},
            "color": {"field": "c", "type": "nominal",
              "scale": {"domain": [2000,1500,1000,800,600,400,200], "range": ["#8000FF","#000080","#0A6B0A","#FF00FF","#0000FF","#FF0000","#000000"]},
              "legend": {"orient": "none", "legendX": 360, "legendY": 14, "title": null, "padding": 0,
                "symbolType": "stroke", "symbolSize": 2304, "symbolStrokeWidth": 3, "clipHeight": 30, "rowPadding": 1.6,
                "labelFont": "Liberation Sans", "labelFontSize": 26, "labelColor": "black", "labelOffset": 2,
                "labelExpr": "datum.label + ' cycles'"}}
          }
        },
        {
          "data": {"values": [{"E": 336.415, "v": 231, "E2": 335.4, "v2": 210.5}]},
          "mark": {"type": "rule", "color": "black", "strokeWidth": 1.5},
          "encoding": {"x": {"field": "E", "type": "quantitative"}, "y": {"field": "v", "type": "quantitative"}, "x2": {"field": "E2"}, "y2": {"field": "v2"}}
        },
        {
          "data": {"values": [{"E": 335.4, "v": 210.5}]},
          "mark": {"type": "point", "shape": "M0,-1L0.45,0.6L-0.45,0.6Z", "filled": true, "color": "black", "size": 196, "angle": 245, "opacity": 1},
          "encoding": {"x": {"field": "E", "type": "quantitative"}, "y": {"field": "v", "type": "quantitative"}}
        },
        {
          "data": {"values": [{"E": 336.057, "v": 238, "t": "Pd"}]},
          "mark": {"type": "text", "align": "left", "baseline": "alphabetic", "fontSize": 25, "font": "Liberation Sans", "color": "black"},
          "encoding": {"x": {"field": "E", "type": "quantitative"}, "y": {"field": "v", "type": "quantitative"}, "text": {"field": "t"}}
        },
        {
          "data": {"values": [{"E": 336.895, "v": 228, "t": "3d 5/2"}]},
          "mark": {"type": "text", "align": "left", "baseline": "alphabetic", "fontSize": 21, "font": "Liberation Sans", "color": "black"},
          "encoding": {"x": {"field": "E", "type": "quantitative"}, "y": {"field": "v", "type": "quantitative"}, "text": {"field": "t"}}
        },
        {
          "data": {"values": [{"E": 334.209, "v": 402, "t": "(b)"}]},
          "mark": {"type": "text", "align": "left", "baseline": "alphabetic", "fontSize": 38, "fontWeight": "bold", "font": "Liberation Sans", "color": "black"},
          "encoding": {"x": {"field": "E", "type": "quantitative"}, "y": {"field": "v", "type": "quantitative"}, "text": {"field": "t"}}
        }
      ]
    }
  ]
}
